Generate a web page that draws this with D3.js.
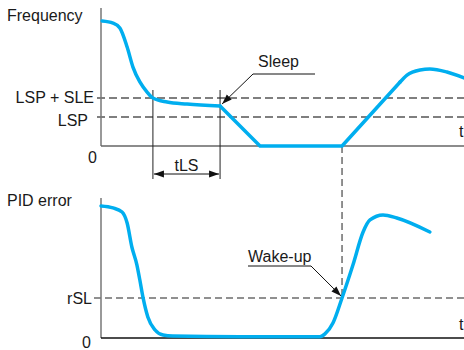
<!DOCTYPE html>
<html>
<head>
<meta charset="utf-8">
<script src="https://cdn.jsdelivr.net/npm/d3@7"></script>
<style>
  html, body { margin: 0; padding: 0; background: #fff; }
  svg { display: block; }
  text { font-family: Arial, "Liberation Sans", Helvetica, sans-serif; font-size: 16px; fill: #1a1a1a; }
</style>
</head>
<body>
<svg id="chart" width="464" height="350"></svg>
<script>
// ---- Data (time in %, values in % of axis height) ----
const freqDecayT = [0.3, 3.3, 5.2, 7.2, 8.8, 10.7, 12.7, 14.3, 18.2, 23.7, 32.8];
const freqDecayV = [90.6, 89.1, 85.5, 71.7, 57.2, 46.4, 39.1, 34.8, 31.9, 30.4, 29.0];
const freqRampT = [32.8, 43.8, 66.4, 82.4];
const freqRampV = [29.0, 0, 0, 46.4];
const freqPeakT = [82.4, 84.3, 87.9, 90.6, 95.3, 100];
const freqPeakV = [46.4, 51.4, 55.1, 55.8, 53.6, 49.3];

const pidT = [0, 3.3, 5.8, 7.2, 8.5, 9.9, 10.7, 11.6, 12.9, 14.9, 17.1, 19.8, 38.3, 60.3, 61.7, 63.9, 66.4, 69.4, 72.2, 74.1, 77.7, 81.5, 90.6];
const pidV = [94.3, 92.9, 90.0, 82.1, 65.0, 52.1, 41.4, 28.6, 15.0, 5.7, 2.1, 1.4, 0.9, 0.9, 2.9, 10.7, 28.6, 52.1, 75.7, 84.3, 87.9, 85.7, 75.7];

const freqLevels = ["LSP + SLE", "LSP"];
const freqLevelValues = [34.8, 21.0];
const pidLevels = ["rSL"];
const pidLevelValues = [28.6];

const sleepTime = 32.8;      // end of tLS / sleep point
const lsCrossTime = 14.3;    // frequency crosses LSP + SLE
const wakeTime = 66.4;       // wake-up

const topTitle = "Frequency";
const bottomTitle = "PID error";
const timeLabel = "t";
const zeroLabel = "0";

// ---- Scales ----
const x = d3.scaleLinear().domain([0, 100]).range([101, 464]);
const yTop = d3.scaleLinear().domain([0, 100]).range([146, 8]);
const yBot = d3.scaleLinear().domain([0, 100]).range([338, 198]);

const svg = d3.select("#chart");
const blue = "#00aeef";
const dashGray = "#555";

const zip = (ts, vs) => ts.map((t, i) => [t, vs[i]]);

// ---- Dashed reference lines ----
freqLevelValues.forEach((v, i) => {
  svg.append("line")
    .attr("x1", 97).attr("x2", 464)
    .attr("y1", yTop(v)).attr("y2", yTop(v))
    .attr("stroke", dashGray).attr("stroke-width", 1.3)
    .attr("stroke-dasharray", "8,4");
});
pidLevelValues.forEach(v => {
  svg.append("line")
    .attr("x1", 94).attr("x2", 464)
    .attr("y1", yBot(v)).attr("y2", yBot(v))
    .attr("stroke", "#222").attr("stroke-width", 1.1)
    .attr("stroke-dasharray", "7,4");
});
// wake-up vertical dashed link
svg.append("line")
  .attr("x1", x(wakeTime)).attr("x2", x(wakeTime))
  .attr("y1", yTop(0)).attr("y2", yBot(pidLevelValues[0]))
  .attr("stroke", dashGray).attr("stroke-width", 1.3)
  .attr("stroke-dasharray", "7,4");

// ---- Axes ----
svg.append("line").attr("x1", x(0)).attr("x2", x(0)).attr("y1", yTop(100)).attr("y2", yTop(0))
  .attr("stroke", "#777").attr("stroke-width", 1.5);
svg.append("line").attr("x1", x(0)).attr("x2", x(100)).attr("y1", yTop(0)).attr("y2", yTop(0))
  .attr("stroke", "#666").attr("stroke-width", 1.5);
svg.append("line").attr("x1", x(0)).attr("x2", x(0)).attr("y1", yBot(100)).attr("y2", yBot(0))
  .attr("stroke", "#777").attr("stroke-width", 1.5);
svg.append("line").attr("x1", x(0)).attr("x2", x(100)).attr("y1", yBot(0)).attr("y2", yBot(0))
  .attr("stroke", "#111").attr("stroke-width", 1.5);

// ---- tLS markers ----
[lsCrossTime, sleepTime].forEach(t => {
  svg.append("line")
    .attr("x1", x(t)).attr("x2", x(t))
    .attr("y1", 90).attr("y2", 179)
    .attr("stroke", "#222").attr("stroke-width", 1);
});

const defs = svg.append("defs");
defs.append("marker")
  .attr("id", "arr").attr("viewBox", "0 0 10 10")
  .attr("refX", 10).attr("refY", 5)
  .attr("markerWidth", 10).attr("markerHeight", 10)
  .attr("markerUnits", "userSpaceOnUse")
  .attr("orient", "auto-start-reverse")
  .append("path").attr("d", "M0,1.5 L10,5 L0,8.5 Z").attr("fill", "#111");

svg.append("line")
  .attr("x1", x(lsCrossTime) + 1).attr("x2", x(sleepTime) - 1)
  .attr("y1", 174).attr("y2", 174)
  .attr("stroke", "#111").attr("stroke-width", 1)
  .attr("marker-start", "url(#arr)").attr("marker-end", "url(#arr)");
svg.append("text").attr("x", (x(lsCrossTime) + x(sleepTime)) / 2).attr("y", 171)
  .attr("text-anchor", "middle").text("tLS");

// ---- Curves ----
const lineSmooth = d3.line().x(d => x(d[0])).curve(d3.curveMonotoneX);
const lineStraight = d3.line().x(d => x(d[0])).curve(d3.curveLinear);

function drawLine(gen, yScale, data) {
  svg.append("path")
    .attr("d", gen.y(d => yScale(d[1]))(data))
    .attr("fill", "none").attr("stroke", blue)
    .attr("stroke-width", 3.5)
    .attr("stroke-linejoin", "round").attr("stroke-linecap", "round");
}
drawLine(lineSmooth, yTop, zip(freqDecayT, freqDecayV));
drawLine(lineStraight, yTop, zip(freqRampT, freqRampV));
drawLine(lineSmooth, yTop, zip(freqPeakT, freqPeakV));
drawLine(lineSmooth, yBot, zip(pidT, pidV));

// ---- Annotations ----
svg.append("text").attr("x", 258).attr("y", 67).text("Sleep");
svg.append("line").attr("x1", 253).attr("x2", 315).attr("y1", 74).attr("y2", 74)
  .attr("stroke", "#111").attr("stroke-width", 1);
svg.append("line").attr("x1", 253).attr("y1", 74)
  .attr("x2", x(sleepTime) + 2).attr("y2", yTop(freqDecayV[freqDecayV.length - 1]) - 2)
  .attr("stroke", "#111").attr("stroke-width", 1)
  .attr("marker-end", "url(#arr)");

svg.append("text").attr("x", 248).attr("y", 262).text("Wake-up");
svg.append("line").attr("x1", 248).attr("x2", 311).attr("y1", 266).attr("y2", 266)
  .attr("stroke", "#111").attr("stroke-width", 1);
svg.append("line").attr("x1", 311).attr("y1", 266)
  .attr("x2", x(wakeTime) - 1).attr("y2", yBot(pidLevelValues[0]) - 2)
  .attr("stroke", "#111").attr("stroke-width", 1)
  .attr("marker-end", "url(#arr)");

// ---- Labels ----
svg.append("text").attr("x", 7).attr("y", 21).text(topTitle);
svg.append("text").attr("x", 7).attr("y", 206).text(bottomTitle);

svg.append("text").attr("x", 94).attr("y", 103).attr("text-anchor", "end").text(freqLevels[0]);
svg.append("text").attr("x", 88).attr("y", 126).attr("text-anchor", "end").text(freqLevels[1]);
svg.append("text").attr("x", 92).attr("y", 304).attr("text-anchor", "end").text(pidLevels[0]);

svg.append("text").attr("x", 97).attr("y", 163).attr("text-anchor", "end").text(zeroLabel);
svg.append("text").attr("x", 91).attr("y", 348).attr("text-anchor", "end").text(zeroLabel);

svg.append("text").attr("x", 459).attr("y", 137).text(timeLabel);
svg.append("text").attr("x", 459).attr("y", 330).text(timeLabel);
</script>
</body>
</html>
